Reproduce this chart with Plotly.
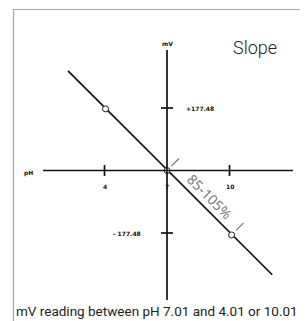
import plotly.graph_objects as go

# ---- data ----
x_ticks = [4, 7, 10]
x_tick_labels = ["4", "7", "10"]
y_ticks = [177.48, -177.48]
y_tick_labels = ["+177.48", "- 177.48"]
line_ph = [2.25, 12.05]
line_mv = [283, -296]
point_ph = [4.05, 7.0, 10.1]
point_mv = [175, 0, -183]
slope_range_label = "85-105%"
title_text = "Slope"
caption_text = "mV reading between pH 7.01 and 4.01 or 10.01"

# ---- pixel mapping helpers (layout only; page body has an 8px margin) ----
PAGE_W, PAGE_H = 308, 321
OFF = 8
W, H = PAGE_W - OFF, PAGE_H - OFF
X0_PX, Y0_PX = 167.0, 170.5
PX_PER_PH = 62.5 / 3.0
MV_PER_PX = 177.48 / 62.5

def ph_at(px):
    return 7 + (px - X0_PX) / PX_PER_PH

def mv_at(py):
    return (Y0_PX - py) * MV_PER_PX

x_range = [ph_at(OFF), ph_at(PAGE_W)]
y_range = [mv_at(PAGE_H), mv_at(OFF)]

fig = go.Figure()

shapes = []
# frame
shapes.append(dict(type="rect", xref="paper", yref="paper",
                   x0=(13.5 - OFF) / W, x1=(303.5 - OFF) / W, y0=-0.1, y1=1 - (9.5 - OFF) / H,
                   line=dict(color="#a8a8a8", width=1.2), layer="above"))
# axes lines
shapes.append(dict(type="line", x0=ph_at(43), x1=ph_at(293), y0=0, y1=0,
                   line=dict(color="#111", width=1.7)))
shapes.append(dict(type="line", x0=7, x1=7, y0=mv_at(50), y1=mv_at(300),
                   line=dict(color="#111", width=1.7)))
# ticks
for t in x_ticks:
    if t == 7:
        continue
    shapes.append(dict(type="line", x0=t, x1=t, y0=mv_at(Y0_PX - 5.5), y1=mv_at(Y0_PX + 5.5),
                       line=dict(color="#111", width=1.7)))
for t in y_ticks:
    shapes.append(dict(type="line", x0=ph_at(X0_PX - 6), x1=ph_at(X0_PX + 6), y0=t, y1=t,
                       line=dict(color="#111", width=1.7)))
# slope-range marks (perpendicular to the line)
for i in [1, 2]:
    px = X0_PX + (point_ph[i] - 7) * PX_PER_PH
    py = Y0_PX - point_mv[i] / MV_PER_PX
    shapes.append(dict(type="line", x0=ph_at(px + 4.5), y0=mv_at(py - 4.5),
                       x1=ph_at(px + 12), y1=mv_at(py - 12),
                       line=dict(color="#777", width=1.1)))
fig.update_layout(shapes=shapes)

fig.add_trace(go.Scatter(x=line_ph, y=line_mv, mode="lines",
                         line=dict(color="#111", width=1.7), hoverinfo="skip"))
fig.add_trace(go.Scatter(x=point_ph, y=point_mv, mode="markers",
                         marker=dict(size=6, color="white", line=dict(color="#222", width=1)),
                         hoverinfo="skip"))

ann = []
small = dict(family="DejaVu Sans", size=6, color="#111")
for t, lab in zip(x_ticks, x_tick_labels):
    ann.append(dict(x=t, y=mv_at(186), text="<b>%s</b>" % lab, showarrow=False, font=small))
ann.append(dict(x=ph_at(184), y=y_ticks[0], text="<b>%s</b>" % y_tick_labels[0], showarrow=False,
                font=small, xanchor="left"))
ann.append(dict(x=ph_at(143), y=y_ticks[1], text="<b>%s</b>" % y_tick_labels[1], showarrow=False,
                font=small, xanchor="right"))
ann.append(dict(x=7, y=mv_at(43), text="<b>mV</b>", showarrow=False, font=small))
ann.append(dict(x=ph_at(28), y=mv_at(173), text="<b>pH</b>", showarrow=False, font=small))
ann.append(dict(x=ph_at(255), y=mv_at(47), text=title_text, showarrow=False,
                font=dict(family="Roboto", size=18, color="#222", weight=300)))
ann.append(dict(x=ph_at(210), y=mv_at(196), text=slope_range_label, showarrow=False, textangle=45,
                font=dict(family="Noto Sans", size=14, color="#777")))
ann.append(dict(x=ph_at(157), y=mv_at(311), text=caption_text, showarrow=False,
                font=dict(family="Roboto", size=13.5, color="#222")))
fig.update_layout(annotations=ann)

fig.update_layout(
    width=W, height=H, margin=dict(l=0, r=0, t=0, b=0),
    paper_bgcolor="white", plot_bgcolor="white", showlegend=False,
    xaxis=dict(range=x_range, visible=False, fixedrange=True),
    yaxis=dict(range=y_range, visible=False, fixedrange=True),
)

fig.write_html("out.html")
